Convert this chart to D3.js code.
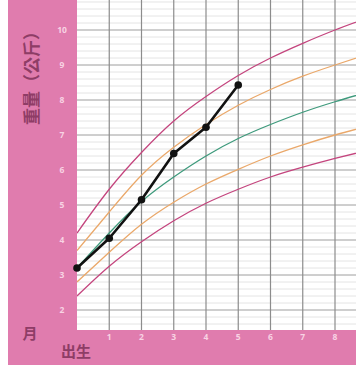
<!DOCTYPE html>
<html>
<head>
<meta charset="utf-8">
<script src="https://cdn.jsdelivr.net/npm/d3@7"></script>
<style>
  body { margin: 0; background: #fff; }
  svg { display: block; }
</style>
</head>
<body>
<svg id="chart" width="356" height="367"></svg>
<script>
// months and reference curves (kg)
var months = [0, 1, 2, 3, 4, 5, 6, 7, 8, 9];
var p3  = [2.4, 3.25, 3.95, 4.55, 5.05, 5.45, 5.8, 6.08, 6.33, 6.56];
var p15 = [2.8, 3.65, 4.45, 5.08, 5.6, 6.02, 6.4, 6.72, 7.0, 7.25];
var p50 = [3.2, 4.2, 5.1, 5.8, 6.4, 6.9, 7.3, 7.65, 7.95, 8.22];
var p85 = [3.7, 4.8, 5.85, 6.65, 7.3, 7.85, 8.3, 8.68, 9.0, 9.3];
var p97 = [4.2, 5.45, 6.5, 7.4, 8.1, 8.7, 9.2, 9.62, 10.0, 10.34];

// the baby's measurements
var babyMonths = [0, 1, 2, 3, 4, 5];
var babyWeight = [3.2, 4.05, 5.15, 6.47, 7.22, 8.43];

var yTicks = [2, 3, 4, 5, 6, 7, 8, 9, 10];
var xTicks = [1, 2, 3, 4, 5, 6, 7, 8];

var svg = d3.select("#chart");
var W = 356, H = 367;
var plot = {left: 77, top: 0, right: 356, bottom: 330};

var x = d3.scaleLinear().domain([0, 8]).range([77, 335]);
var y = d3.scaleLinear().domain([2, 10]).range([310, 30]);

// pink frame
svg.append("rect").attr("x", 8).attr("y", 0).attr("width", W - 8).attr("height", 365)
    .attr("fill", "#e07cae");

// plot area
svg.append("rect").attr("x", plot.left).attr("y", plot.top)
    .attr("width", plot.right - plot.left).attr("height", plot.bottom - plot.top)
    .attr("fill", "#fff");

var g = svg.append("g");
svg.append("clipPath").attr("id", "clip").append("rect")
    .attr("x", plot.left).attr("y", plot.top)
    .attr("width", plot.right - plot.left).attr("height", plot.bottom - plot.top);
g.attr("clip-path", "url(#clip)");

// minor horizontal grid every 0.2 kg
var minor = d3.range(14, 110, 2).map(function(d) { return d / 10; });
g.selectAll("line.minor").data(minor).enter().append("line")
    .attr("class", "minor")
    .attr("x1", plot.left).attr("x2", plot.right)
    .attr("y1", function(d) { return y(d); }).attr("y2", function(d) { return y(d); })
    .attr("stroke", "#e4e4e4").attr("stroke-width", 1);

// major horizontal grid each kg
var major = d3.range(2, 11);
g.selectAll("line.major").data(major).enter().append("line")
    .attr("class", "major")
    .attr("x1", plot.left).attr("x2", plot.right)
    .attr("y1", function(d) { return y(d); }).attr("y2", function(d) { return y(d); })
    .attr("stroke", "#acacac").attr("stroke-width", 1);

// vertical grid each month
g.selectAll("line.vert").data(xTicks).enter().append("line")
    .attr("class", "vert")
    .attr("x1", function(d) { return x(d); }).attr("x2", function(d) { return x(d); })
    .attr("y1", plot.top).attr("y2", plot.bottom)
    .attr("stroke", "#8c8c8c").attr("stroke-width", 1.2);

// percentile curves
var curve = d3.line()
    .x(function(d, i) { return x(months[i]); })
    .y(function(d) { return y(d); })
    .curve(d3.curveNatural);

var series = [
  {v: p3,  c: "#c4457e"},
  {v: p15, c: "#eaa86a"},
  {v: p50, c: "#3e9a7c"},
  {v: p85, c: "#eaa86a"},
  {v: p97, c: "#c4457e"}
];
series.forEach(function(s) {
  g.append("path").datum(s.v)
      .attr("fill", "none")
      .attr("stroke", s.c)
      .attr("stroke-width", 1.3)
      .attr("d", curve);
});

// baby line
var babyLine = d3.line()
    .x(function(d, i) { return x(babyMonths[i]); })
    .y(function(d) { return y(d); });

g.append("path").datum(babyWeight)
    .attr("fill", "none")
    .attr("stroke", "#111")
    .attr("stroke-width", 2.6)
    .attr("stroke-linejoin", "round")
    .attr("d", babyLine);

svg.selectAll("circle.pt").data(babyWeight).enter().append("circle")
    .attr("class", "pt")
    .attr("cx", function(d, i) { return x(babyMonths[i]); })
    .attr("cy", function(d) { return y(d); })
    .attr("r", 3.8)
    .attr("fill", "#111");

// tick labels
svg.selectAll("text.yt").data(yTicks).enter().append("text")
    .attr("class", "yt")
    .attr("x", 62).attr("y", function(d) { return y(d); })
    .attr("dy", "0.35em")
    .attr("text-anchor", "middle")
    .attr("font-family", "Open Sans, sans-serif")
    .attr("font-size", 8.5).attr("font-weight", "bold")
    .attr("fill", "#f8d3e4")
    .text(function(d) { return d; });

svg.selectAll("text.xt").data(xTicks).enter().append("text")
    .attr("class", "xt")
    .attr("x", function(d) { return x(d); }).attr("y", 337)
    .attr("dy", "0.35em")
    .attr("text-anchor", "middle")
    .attr("font-family", "Open Sans, sans-serif")
    .attr("font-size", 8.5).attr("font-weight", "bold")
    .attr("fill", "#f8d3e4")
    .text(function(d) { return d; });

// titles
var cjk = "'Noto Sans CJK TC', 'Noto Sans CJK SC', sans-serif";
svg.append("text")
    .attr("transform", "translate(32,74) rotate(-90)")
    .attr("text-anchor", "middle")
    .attr("dy", "0.35em")
    .attr("font-family", cjk)
    .attr("font-size", 17).attr("font-weight", "bold")
    .attr("fill", "#8e3d66")
    .text("重量（公斤）");

svg.append("text")
    .attr("x", 30).attr("y", 334)
    .attr("dy", "0.35em")
    .attr("text-anchor", "middle")
    .attr("font-family", cjk)
    .attr("font-size", 15).attr("font-weight", "bold")
    .attr("fill", "#8e3d66")
    .text("月");

svg.append("text")
    .attr("x", 76).attr("y", 352)
    .attr("dy", "0.35em")
    .attr("text-anchor", "middle")
    .attr("font-family", cjk)
    .attr("font-size", 15).attr("font-weight", "bold")
    .attr("fill", "#8e3d66")
    .text("出生");
</script>
</body>
</html>
